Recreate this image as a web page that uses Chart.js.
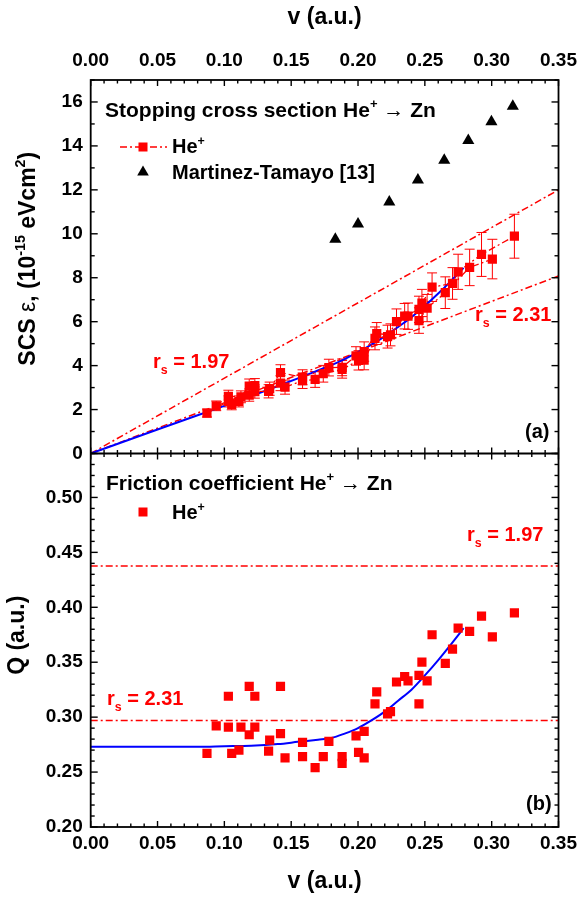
<!DOCTYPE html>
<html lang="en">
<head>
<meta charset="UTF-8">
<title>Stopping cross section and friction coefficient He+ on Zn</title>
<script src="https://cdn.jsdelivr.net/npm/chart.js"></script>
<style>
    html, body {
        margin: 0;
        padding: 0;
        background: #fff;
    }
    #wrap {
        position: relative;
        width: 585px;
        height: 897px;
    }
</style>
</head>
<body>
<div id="wrap"><canvas id="chart" width="585" height="897"></canvas></div>
<script>
    // He+ data, upper run (A) and lower run (B): velocity, stopping, error, friction
    const vA = [0.0939, 0.1030, 0.1124, 0.1186, 0.1228, 0.1339, 0.1420, 0.1585, 0.1782, 0.1881, 0.1985,
                0.2046, 0.2140, 0.2243, 0.2349, 0.2456, 0.2478, 0.2554, 0.2707, 0.2749, 0.2924, 0.3170];
    const sA = [2.17, 2.60, 2.58, 3.07, 3.09, 2.95, 3.68, 3.47, 3.91, 3.92, 4.44,
                4.64, 5.46, 5.40, 6.25, 6.56, 6.85, 7.57, 7.74, 8.27, 9.06, 9.89];
    const eA = [0.22, 0.28, 0.27, 0.32, 0.32, 0.30, 0.36, 0.34, 0.38, 0.38, 0.42,
                0.44, 0.50, 0.50, 0.58, 0.60, 0.62, 0.65, 0.72, 0.80, 1.00, 1.00];
    const qA = [0.292, 0.319, 0.291, 0.328, 0.319, 0.279, 0.328, 0.277, 0.278, 0.264, 0.283,
                0.287, 0.323, 0.305, 0.337, 0.338, 0.350, 0.375, 0.362, 0.381, 0.392, 0.395];

    const vB = [0.0870, 0.1030, 0.1055, 0.1109, 0.1186, 0.1228, 0.1331, 0.1420, 0.1454, 0.1585, 0.1679, 0.1740,
                0.1881, 0.2004, 0.2046, 0.2127, 0.2221, 0.2288, 0.2374, 0.2456, 0.2517, 0.2653, 0.2835, 0.3005];
    const sB = [1.84, 2.37, 2.23, 2.37, 2.66, 2.82, 2.83, 3.20, 3.02, 3.31, 3.37, 3.63,
                3.83, 4.24, 4.25, 5.24, 5.32, 6.00, 6.25, 6.05, 6.62, 7.32, 8.47, 8.85];
    const eB = [0.18, 0.25, 0.24, 0.25, 0.28, 0.30, 0.30, 0.34, 0.32, 0.35, 0.36, 0.38,
                0.40, 0.44, 0.44, 0.52, 0.52, 0.58, 0.60, 0.58, 0.62, 0.72, 0.83, 0.90];
    const qB = [0.267, 0.291, 0.267, 0.270, 0.284, 0.291, 0.269, 0.285, 0.263, 0.264, 0.254, 0.264,
                0.258, 0.268, 0.263, 0.312, 0.303, 0.332, 0.333, 0.312, 0.333, 0.349, 0.378, 0.373];

    // Martinez-Tamayo [13]
    const mtV = [0.183, 0.200, 0.2234, 0.2448, 0.2645, 0.2825, 0.2998, 0.3158];
    const mtS = [9.75, 10.45, 11.45, 12.45, 13.35, 14.25, 15.10, 15.80];

    // blue fit curves
    const fitV = [0, 0.05, 0.08, 0.10, 0.12, 0.14, 0.155, 0.17, 0.18, 0.19, 0.20,
                  0.21, 0.22, 0.23, 0.24, 0.25, 0.26, 0.27, 0.279];
    const fitS = [0, 1.09, 1.74, 2.17, 2.61, 3.07, 3.42, 3.78, 4.02, 4.30, 4.61,
                  4.96, 5.33, 5.76, 6.20, 6.72, 7.28, 7.88, 8.45];
    const fitQ = [0.273, 0.273, 0.273, 0.2735, 0.274, 0.2755, 0.2775, 0.2795, 0.281, 0.285, 0.290,
                  0.297, 0.305, 0.315, 0.325, 0.338, 0.352, 0.367, 0.381];

    // r_s reference lines
    const rsV = [0, 0.35];
    const rs197S = [0, 12.0];
    const rs231S = [0, 8.08];
    const rs197Q = [0.4375, 0.4375];
    const rs231Q = [0.297, 0.297];

    const RED = '#ff0000';
    const BLUE = '#0000ff';
    const FONT = '"Liberation Sans", Arial, Helvetica, sans-serif';
    const DASHDOT = [7, 3, 2, 3];

    function pts(xs, ys) {
        return xs.map((v, i) => ({ x: v, y: ys[i] }));
    }

    // text with superscript / subscript pieces
    function richWidth(ctx, parts, size) {
        let w = 0;
        parts.forEach(p => {
            const [t, mode] = Array.isArray(p) ? p : [p, ''];
            const small = mode === 'sup' || mode === 'sub';
            ctx.font = (mode === 'plain' ? '' : 'bold ') + (small ? size * 0.62 : size) + 'px ' + FONT;
            w += ctx.measureText(t).width;
        });
        return w;
    }

    function rich(ctx, parts, x, y, size, color) {
        ctx.fillStyle = color;
        ctx.textAlign = 'left';
        ctx.textBaseline = 'alphabetic';
        let cx = x;
        parts.forEach(p => {
            const [t, mode] = Array.isArray(p) ? p : [p, ''];
            const small = mode === 'sup' || mode === 'sub';
            ctx.font = (mode === 'plain' ? '' : 'bold ') + (small ? size * 0.62 : size) + 'px ' + FONT;
            const dy = mode === 'sup' ? -size * 0.42 : (mode === 'sub' ? size * 0.32 : 0);
            ctx.fillText(t, cx, y + dy);
            cx += ctx.measureText(t).width;
        });
    }

    function seg(ctx, x1, y1, x2, y2) {
        ctx.beginPath();
        ctx.moveTo(x1, y1);
        ctx.lineTo(x2, y2);
        ctx.stroke();
    }

    const decor = {
        id: 'decor',
        beforeDatasetsDraw(chart) {
            // error bars of the stopping data
            const ctx = chart.ctx;
            const sx = chart.scales.x, sy = chart.scales.yS;
            ctx.save();
            ctx.strokeStyle = RED;
            ctx.lineWidth = 1;
            [[vA, sA, eA], [vB, sB, eB]].forEach(([vs, ss, es]) => {
                vs.forEach((v, i) => {
                    const px = sx.getPixelForValue(v);
                    const top = sy.getPixelForValue(ss[i] + es[i]);
                    const bot = sy.getPixelForValue(ss[i] - es[i]);
                    seg(ctx, px, top, px, bot);
                    seg(ctx, px - 5, top, px + 5, top);
                    seg(ctx, px - 5, bot, px + 5, bot);
                });
            });
            ctx.restore();
        },
        afterDraw(chart) {
            const ctx = chart.ctx;
            const a = chart.chartArea;
            const sx = chart.scales.x, sS = chart.scales.yS, sQ = chart.scales.yQ;
            const mid = sS.bottom;
            ctx.save();
            ctx.strokeStyle = '#000';
            ctx.lineWidth = 1.8;
            ctx.strokeRect(a.left, a.top, a.right - a.left, a.bottom - a.top);
            seg(ctx, a.left, mid, a.right, mid);

            // inward ticks
            ctx.lineWidth = 1.4;
            for (let i = 0; i <= 35; i++) {
                const px = sx.getPixelForValue(i / 100);
                const L = i % 5 === 0 ? 6 : 3.5;
                seg(ctx, px, a.top, px, a.top + L);
                seg(ctx, px, a.bottom, px, a.bottom - L);
                seg(ctx, px, mid - L, px, mid + L);
            }
            for (let i = 0; i <= 17; i++) {
                const py = sS.getPixelForValue(i);
                const L = i % 2 === 0 ? 7 : 4;
                seg(ctx, a.left, py, a.left + L, py);
                seg(ctx, a.right, py, a.right - L, py);
            }
            for (let i = 20; i <= 54; i++) {
                const py = sQ.getPixelForValue(i / 100);
                const L = i % 5 === 0 ? 7 : 4;
                seg(ctx, a.left, py, a.left + L, py);
                seg(ctx, a.right, py, a.right - L, py);
            }

            // axis titles
            const cxPlot = (a.left + a.right) / 2;
            const xt = ['v (a.u.)'];
            const xw = richWidth(ctx, xt, 23);
            rich(ctx, xt, cxPlot - xw / 2, 24, 23, '#000');
            rich(ctx, xt, cxPlot - xw / 2, 888, 23, '#000');

            const yt1 = ['SCS ', ['\u03b5', 'plain'], ', (10', ['-15', 'sup'], ' eVcm', ['2', 'sup'], ')'];
            const w1 = richWidth(ctx, yt1, 23);
            ctx.save();
            ctx.translate(35, (sS.top + sS.bottom) / 2 - 8);
            ctx.rotate(-Math.PI / 2);
            rich(ctx, yt1, -w1 / 2, 0, 23, '#000');
            ctx.restore();

            const yt2 = ['Q (a.u.)'];
            const w2 = richWidth(ctx, yt2, 23);
            ctx.save();
            ctx.translate(24, (sQ.top + sQ.bottom) / 2 - 5);
            ctx.rotate(-Math.PI / 2);
            rich(ctx, yt2, -w2 / 2, 0, 23, '#000');
            ctx.restore();

            // panel (a) headings and legend
            rich(ctx, ['Stopping cross section He', ['+', 'sup'], ' ', ['\u2192', 'plain'], ' Zn'], 105, 117, 21, '#000');
            ctx.strokeStyle = RED;
            ctx.lineWidth = 1.5;
            ctx.setLineDash(DASHDOT);
            seg(ctx, 120, 147, 167, 147);
            ctx.setLineDash([]);
            ctx.fillStyle = RED;
            ctx.fillRect(143 - 4.5, 147 - 4.5, 9, 9);
            rich(ctx, ['He', ['+', 'sup']], 172, 153, 20, '#000');
            ctx.fillStyle = '#000';
            ctx.beginPath();
            ctx.moveTo(143, 165.5);
            ctx.lineTo(148.8, 175.5);
            ctx.lineTo(137.2, 175.5);
            ctx.closePath();
            ctx.fill();
            rich(ctx, ['Martinez-Tamayo [13]'], 172, 179, 20, '#000');

            rich(ctx, ['r', ['s', 'sub'], ' = 1.97'], 153, 368, 20, RED);
            rich(ctx, ['r', ['s', 'sub'], ' = 2.31'], 475, 321, 20, RED);
            rich(ctx, ['(a)'], 525, 438, 20, '#000');

            // panel (b)
            rich(ctx, ['Friction coefficient He', ['+', 'sup'], ' ', ['\u2192', 'plain'], ' Zn'], 106, 490, 21, '#000');
            ctx.fillStyle = RED;
            ctx.fillRect(143 - 4.5, 512 - 4.5, 9, 9);
            rich(ctx, ['He', ['+', 'sup']], 172, 519, 20, '#000');
            rich(ctx, ['r', ['s', 'sub'], ' = 1.97'], 467, 541, 20, RED);
            rich(ctx, ['r', ['s', 'sub'], ' = 2.31'], 107, 705, 20, RED);
            rich(ctx, ['(b)'], 526, 810, 20, '#000');
            ctx.restore();
        }
    };

    const tickFont = { family: FONT, size: 19, weight: 'bold' };
    const pointStyleRed = {
        pointStyle: 'rect',
        pointRadius: 6.5,
        pointBackgroundColor: RED,
        pointBorderWidth: 0,
        pointHoverRadius: 6.5
    };
    const runLine = {
        showLine: true,
        borderColor: RED,
        borderWidth: 1.3,
        borderDash: DASHDOT
    };
    const plainLine = (color, width, dash) => ({
        showLine: true,
        borderColor: color,
        borderWidth: width,
        borderDash: dash,
        pointRadius: 0,
        pointHoverRadius: 0
    });

    new Chart(document.getElementById('chart'), {
        type: 'scatter',
        data: {
            datasets: [
                { label: 'He+ (a) run A', xAxisID: 'x', yAxisID: 'yS', data: pts(vA, sA), ...pointStyleRed, ...runLine },
                { label: 'He+ (a) run B', xAxisID: 'x', yAxisID: 'yS', data: pts(vB, sB), ...pointStyleRed, ...runLine },
                { label: 'Martinez-Tamayo [13]', xAxisID: 'x', yAxisID: 'yS', data: pts(mtV, mtS),
                  pointStyle: 'triangle', pointRadius: 7, pointBackgroundColor: '#000', pointBorderWidth: 0, showLine: false },
                { label: 'He+ (b) run A', xAxisID: 'x', yAxisID: 'yQ', data: pts(vA, qA), ...pointStyleRed, showLine: false },
                { label: 'He+ (b) run B', xAxisID: 'x', yAxisID: 'yQ', data: pts(vB, qB), ...pointStyleRed, showLine: false },
                { label: 'fit (a)', xAxisID: 'x', yAxisID: 'yS', data: pts(fitV, fitS), ...plainLine(BLUE, 2, []), cubicInterpolationMode: 'monotone' },
                { label: 'fit (b)', xAxisID: 'x', yAxisID: 'yQ', data: pts(fitV, fitQ), ...plainLine(BLUE, 2, []), cubicInterpolationMode: 'monotone' },
                { label: 'rs 1.97 (a)', xAxisID: 'x', yAxisID: 'yS', data: pts(rsV, rs197S), ...plainLine(RED, 1.5, DASHDOT) },
                { label: 'rs 2.31 (a)', xAxisID: 'x', yAxisID: 'yS', data: pts(rsV, rs231S), ...plainLine(RED, 1.5, DASHDOT) },
                { label: 'rs 1.97 (b)', xAxisID: 'x', yAxisID: 'yQ', data: pts(rsV, rs197Q), ...plainLine(RED, 1.5, DASHDOT) },
                { label: 'rs 2.31 (b)', xAxisID: 'x', yAxisID: 'yQ', data: pts(rsV, rs231Q), ...plainLine(RED, 1.5, DASHDOT) }
            ]
        },
        options: {
            responsive: false,
            animation: false,
            devicePixelRatio: 1,
            layout: { padding: { left: 0, right: 21.5, top: 0, bottom: 0 } },
            plugins: {
                legend: { display: false },
                tooltip: { enabled: false }
            },
            scales: {
                x: {
                    type: 'linear', position: 'bottom', min: 0, max: 0.35,
                    grid: { display: false, drawTicks: false },
                    border: { display: false },
                    ticks: { stepSize: 0.05, includeBounds: false, padding: 5, color: '#000', font: tickFont,
                             maxRotation: 0, callback: v => v.toFixed(2) },
                    afterFit: s => { s.height = 70; }
                },
                xTop: {
                    type: 'linear', position: 'top', min: 0, max: 0.35,
                    grid: { display: false, drawTicks: false },
                    border: { display: false },
                    ticks: { stepSize: 0.05, includeBounds: false, padding: 8, color: '#000', font: tickFont,
                             maxRotation: 0, callback: v => v.toFixed(2) },
                    afterFit: s => { s.height = 80; }
                },
                // bottom panel first: stacked left axes are laid out bottom-up
                yQ: {
                    type: 'linear', position: 'left', stack: 'panels', stackWeight: 1, min: 0.2, max: 0.54,
                    grid: { display: false, drawTicks: false },
                    border: { display: false },
                    ticks: { stepSize: 0.05, includeBounds: false, padding: 8, color: '#000', font: tickFont,
                             callback: v => v.toFixed(2) },
                    afterFit: s => { s.width = 90.7; }
                },
                yS: {
                    type: 'linear', position: 'left', stack: 'panels', stackWeight: 1, min: 0, max: 17,
                    grid: { display: false, drawTicks: false },
                    border: { display: false },
                    ticks: { stepSize: 2, includeBounds: false, padding: 8, color: '#000', font: tickFont },
                    afterFit: s => { s.width = 90.7; }
                }
            }
        },
        plugins: [decor]
    });
</script>
</body>
</html>
